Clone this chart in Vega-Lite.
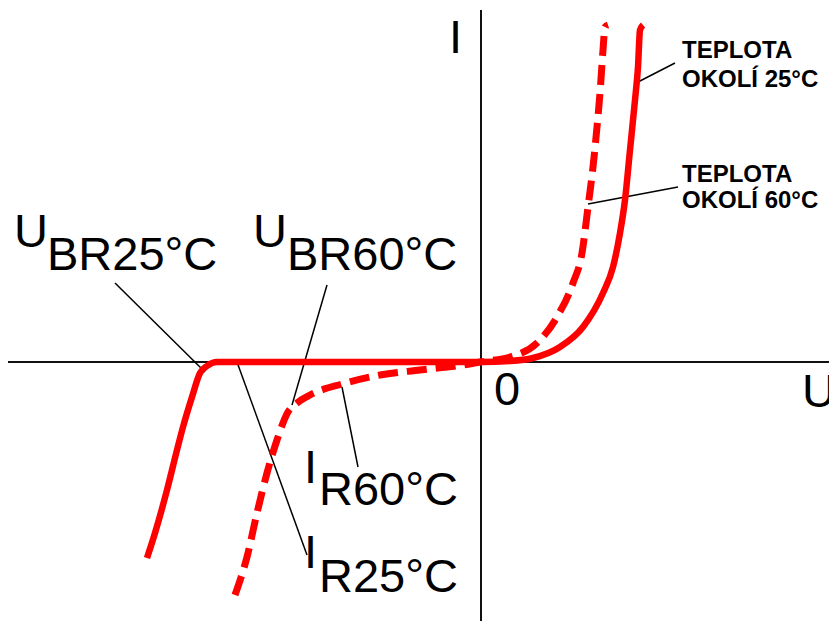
{
  "$schema": "https://vega.github.io/schema/vega-lite/v6.json",
  "width": 829,
  "height": 621,
  "autosize": {"type": "none"},
  "padding": 0,
  "background": "white",
  "config": {"view": {"stroke": null}},
  "datasets": {
    "curves": [
      {"s": "25", "k": 1, "u": -33.4, "i": -19.6},
      {"s": "25", "k": 2, "u": -32.6, "i": -17.1},
      {"s": "25", "k": 3, "u": -31.4, "i": -12.8},
      {"s": "25", "k": 4, "u": -30.4, "i": -8.8},
      {"s": "25", "k": 5, "u": -29.8, "i": -6.5},
      {"s": "25", "k": 6, "u": -28.9, "i": -3.5},
      {"s": "25", "k": 7, "u": -28.1, "i": -1.1},
      {"s": "25", "k": 8, "u": -27.4, "i": -0.4},
      {"s": "25", "k": 9, "u": -26.4, "i": 0.0},
      {"s": "25", "k": 10, "u": 0.0, "i": 0.0},
      {"s": "25", "k": 11, "u": 2.9, "i": 0.1},
      {"s": "25", "k": 12, "u": 5.2, "i": 0.4},
      {"s": "25", "k": 13, "u": 7.9, "i": 1.5},
      {"s": "25", "k": 14, "u": 10.2, "i": 3.5},
      {"s": "25", "k": 15, "u": 12.2, "i": 6.9},
      {"s": "25", "k": 16, "u": 13.2, "i": 9.5},
      {"s": "25", "k": 17, "u": 13.9, "i": 12.9},
      {"s": "25", "k": 18, "u": 14.4, "i": 16.2},
      {"s": "25", "k": 19, "u": 14.9, "i": 21.2},
      {"s": "25", "k": 20, "u": 15.4, "i": 26.2},
      {"s": "25", "k": 21, "u": 15.7, "i": 29.5},
      {"s": "25", "k": 22, "u": 15.9, "i": 33.2},
      {"s": "25", "k": 23, "u": 16.2, "i": 33.7},
      {"s": "60", "k": 1, "u": -24.6, "i": -23.3},
      {"s": "60", "k": 2, "u": -23.4, "i": -19.5},
      {"s": "60", "k": 3, "u": -22.4, "i": -15.1},
      {"s": "60", "k": 4, "u": -21.4, "i": -11.1},
      {"s": "60", "k": 5, "u": -20.4, "i": -7.8},
      {"s": "60", "k": 6, "u": -19.3, "i": -5.0},
      {"s": "60", "k": 7, "u": -18.4, "i": -4.1},
      {"s": "60", "k": 8, "u": -17.1, "i": -3.3},
      {"s": "60", "k": 9, "u": -13.9, "i": -2.2},
      {"s": "60", "k": 10, "u": -10.1, "i": -1.3},
      {"s": "60", "k": 11, "u": -6.1, "i": -0.8},
      {"s": "60", "k": 12, "u": -1.8, "i": -0.3},
      {"s": "60", "k": 13, "u": -0.1, "i": 0.0},
      {"s": "60", "k": 14, "u": 2.9, "i": 0.5},
      {"s": "60", "k": 15, "u": 5.6, "i": 1.9},
      {"s": "60", "k": 16, "u": 7.6, "i": 4.5},
      {"s": "60", "k": 17, "u": 9.2, "i": 7.9},
      {"s": "60", "k": 18, "u": 10.1, "i": 10.9},
      {"s": "60", "k": 19, "u": 10.7, "i": 15.5},
      {"s": "60", "k": 20, "u": 11.2, "i": 19.5},
      {"s": "60", "k": 21, "u": 11.6, "i": 23.5},
      {"s": "60", "k": 22, "u": 11.9, "i": 26.9},
      {"s": "60", "k": 23, "u": 12.2, "i": 31.2},
      {"s": "60", "k": 24, "u": 12.4, "i": 33.5},
      {"s": "60", "k": 25, "u": 12.7, "i": 33.7}
    ],
    "axes": [
      {"u": -47.3, "i": 0, "u2": 34.8, "i2": 0},
      {"u": 0, "i": 35.2, "u2": 0, "i2": -25.9}
    ],
    "leaders": [
      {"u": -36.6, "i": 7.9, "u2": -27.6, "i2": -1.0},
      {"u": -15.4, "i": 7.7, "u2": -18.9, "i2": -4.3},
      {"u": -24.4, "i": 0.0, "u2": -17.4, "i2": -19.3},
      {"u": -13.9, "i": -2.5, "u2": -12.3, "i2": -10.5},
      {"u": 15.7, "i": 28.0, "u2": 19.4, "i2": 29.9},
      {"u": 10.7, "i": 15.8, "u2": 19.7, "i2": 17.5}
    ],
    "big": [
      {"t": "U", "u": -46.7, "i": 11.5},
      {"t": "BR25°C", "u": -43.4, "i": 9.2},
      {"t": "U", "u": -22.8, "i": 11.5},
      {"t": "BR60°C", "u": -19.4, "i": 9.2},
      {"t": "I", "u": -17.7, "i": -12.1},
      {"t": "R60°C", "u": -16.2, "i": -14.3},
      {"t": "I", "u": -17.7, "i": -20.6},
      {"t": "R25°C", "u": -16.2, "i": -23.0},
      {"t": "I", "u": -3.2, "i": 30.9},
      {"t": "U", "u": 32.1, "i": -4.5},
      {"t": "0", "u": 1.3, "i": -4.3}
    ],
    "small": [
      {"t": "TEPLOTA", "u": 20.1, "i": 30.4},
      {"t": "OKOLÍ 25°C", "u": 20.1, "i": 27.5},
      {"t": "TEPLOTA", "u": 20.1, "i": 18.0},
      {"t": "OKOLÍ 60°C", "u": 20.1, "i": 15.4}
    ]
  },
  "encoding": {
    "x": {"field": "u", "type": "quantitative", "axis": null, "scale": {"domain": [-48.1, 34.8], "nice": false, "zero": false}},
    "y": {"field": "i", "type": "quantitative", "axis": null, "scale": {"domain": [-25.9, 36.2], "nice": false, "zero": false}}
  },
  "layer": [
    {
      "data": {"name": "axes"},
      "mark": {"type": "rule", "color": "#111111", "strokeWidth": 2},
      "encoding": {"x2": {"field": "u2"}, "y2": {"field": "i2"}}
    },
    {
      "data": {"name": "leaders"},
      "mark": {"type": "rule", "color": "#000000", "strokeWidth": 1.5},
      "encoding": {"x2": {"field": "u2"}, "y2": {"field": "i2"}}
    },
    {
      "data": {"name": "curves"},
      "transform": [{"filter": "datum.s === '25'"}],
      "mark": {"type": "line", "color": "#ff0000", "strokeWidth": 6.5, "strokeJoin": "round", "strokeCap": "butt", "interpolate": "monotone"},
      "encoding": {"order": {"field": "k", "type": "quantitative"}}
    },
    {
      "data": {"name": "curves"},
      "transform": [{"filter": "datum.s === '60'"}],
      "mark": {"type": "line", "color": "#ff0000", "strokeWidth": 7, "strokeDash": [20, 9], "strokeCap": "butt", "interpolate": "monotone"},
      "encoding": {"order": {"field": "k", "type": "quantitative"}}
    },
    {
      "data": {"name": "big"},
      "mark": {"type": "text", "font": "Liberation Sans", "fontSize": 47, "align": "left", "baseline": "alphabetic", "color": "#000000"},
      "encoding": {"text": {"field": "t"}}
    },
    {
      "data": {"name": "small"},
      "mark": {"type": "text", "font": "Liberation Sans", "fontSize": 24, "fontWeight": "bold", "align": "left", "baseline": "alphabetic", "color": "#000000"},
      "encoding": {"text": {"field": "t"}}
    }
  ]
}
